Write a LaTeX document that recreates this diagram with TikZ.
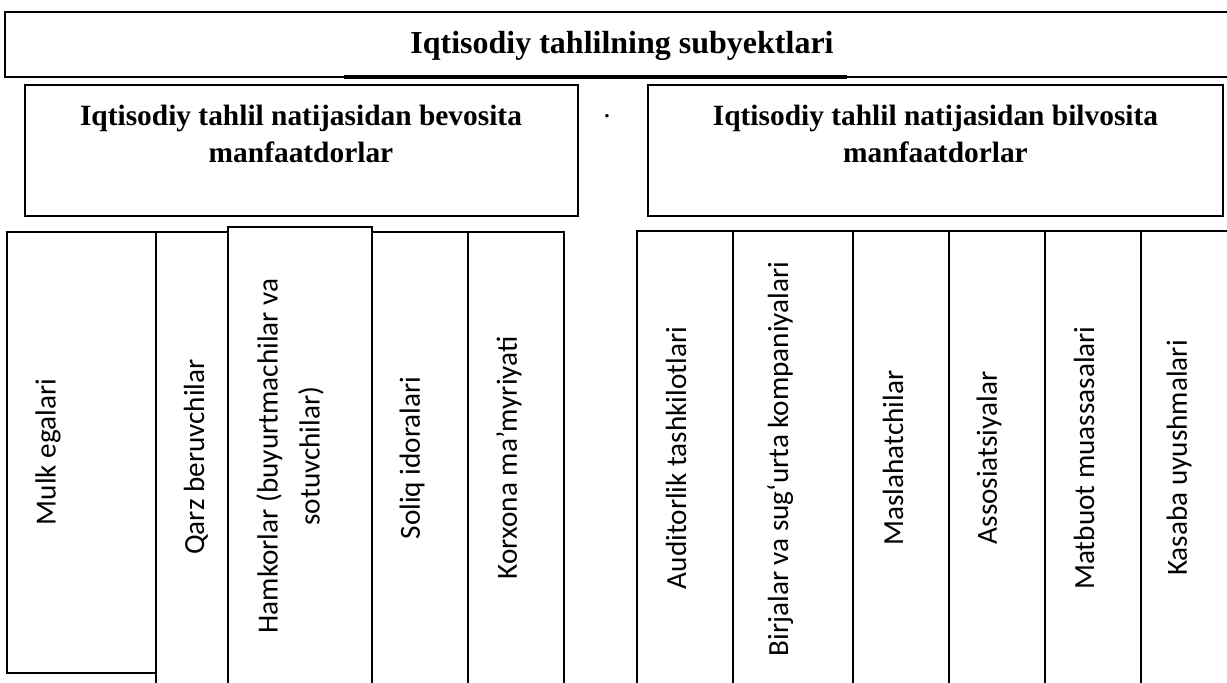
\documentclass[tikz,border=0pt]{standalone}
\usepackage{fontspec}
\setmainfont{Liberation Serif}
\newfontfamily\calibri{Carlito}
\begin{document}
\begin{tikzpicture}[x=0.5pt,y=-0.5pt,
  box/.style={draw, line width=0.9pt},
  col/.style={draw, line width=0.6pt},
  head/.style={font=\fontsize{16}{19}\selectfont\bfseries, inner sep=0pt},
  sub/.style={font=\fontsize{14.7}{18.5}\selectfont\bfseries, align=center, anchor=north, inner sep=0pt},
  vert/.style={font=\calibri\fontsize{14.6}{21}\selectfont, rotate=90, align=center, inner sep=0pt}]
\useasboundingbox (0,0) rectangle (1227,682);
\clip (0,0) rectangle (1227,682);

\draw[box] (1240,12) -- (5,12) -- (5,77) -- (1240,77);
\draw[line width=1.6pt] (344,77) -- (847,77);
\node[head] (title) at (622,46) {Iqtisodiy tahlilning subyektlari};

\draw[box] (25,85) rectangle (578,216);
\draw[box] (648,85) rectangle (1223,216);
\node[sub] (direct) at (301,105) {Iqtisodiy tahlil natijasidan bevosita\\manfaatdorlar};
\node[sub] (indirect) at (935.5,105) {Iqtisodiy tahlil natijasidan bilvosita\\manfaatdorlar};
\node[font=\fontsize{14.7}{16}\selectfont, inner sep=0pt] (dot) at (607,116) {.};

\draw[col] (7,232) rectangle (156,673);
\draw[col] (156,232) rectangle (228,700);
\draw[col] (228,227) rectangle (372,700);
\draw[col] (372,232) rectangle (468,700);
\draw[col] (468,232) rectangle (564,700);

\draw[col] (637,231) rectangle (733,700);
\draw[col] (733,231) rectangle (853,700);
\draw[col] (853,231) rectangle (949,700);
\draw[col] (949,231) rectangle (1045,700);
\draw[col] (1045,231) rectangle (1141,700);
\draw[col] (1141,231) rectangle (1240,700);

\node[vert] (owners) at (48,452) {Mulk egalari};
\node[vert] (lenders) at (196,457) {Qarz beruvchilar};
\node[vert] (partners) at (290,456) {Hamkorlar (buyurtmachilar va\\sotuvchilar)};
\node[vert] (tax) at (412,458) {Soliq idoralari};
\node[vert] (admin) at (509,458) {Korxona ma’myriyati};

\node[vert] (audit) at (676,458) {Auditorlik tashkilotlari};
\node[vert] (exchange) at (780,459) {Birjalar va sugʻurta kompaniyalari};
\node[vert] (advisers) at (893,458) {Maslahatchilar};
\node[vert] (assoc) at (989,458) {Assosiatsiyalar};
\node[vert] (press) at (1084,458) {Matbuot muassasalari};
\node[vert] (unions) at (1179,458) {Kasaba uyushmalari};
\end{tikzpicture}
\end{document}
